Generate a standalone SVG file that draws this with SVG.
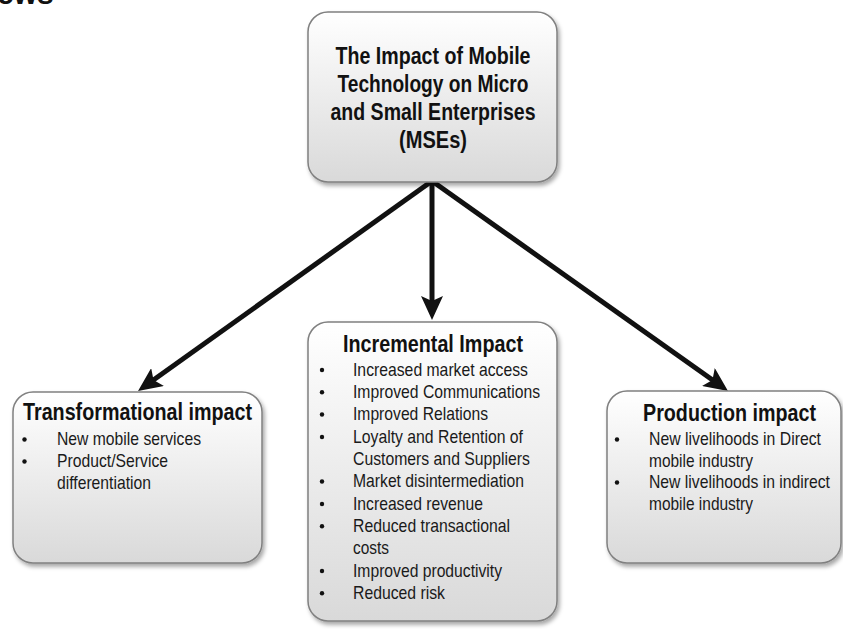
<svg xmlns="http://www.w3.org/2000/svg" width="843" height="629" viewBox="0 0 843 629">
<defs>
<linearGradient id="boxFill" x1="0" y1="0" x2="0" y2="1">
<stop offset="0" stop-color="#ffffff"/>
<stop offset="1" stop-color="#d9d9d9"/>
</linearGradient>
<filter id="shadow" x="-10%" y="-10%" width="125%" height="125%">
<feDropShadow dx="2" dy="3" stdDeviation="2" flood-color="#000" flood-opacity="0.35"/>
</filter>
<marker id="arrow" markerUnits="userSpaceOnUse" viewBox="0 0 24 22" refX="12" refY="11" markerWidth="24" markerHeight="22" orient="auto">
<path d="M0,0 L24,11 L0,22 L5,11 Z" fill="#111"/>
</marker>
</defs>
<style>
.box{fill:url(#boxFill);stroke:#808080;stroke-width:1.5;filter:url(#shadow)}
.head{font-family:"Liberation Sans",Arial,sans-serif;font-weight:bold;font-size:23px;fill:#111}
.body{font-family:"Liberation Sans",Arial,sans-serif;font-size:18.5px;fill:#1a1a1a}
.bul{fill:#111}
.conn{stroke:#111;stroke-width:5;fill:none;marker-end:url(#arrow)}
</style>
<rect width="843" height="629" fill="#ffffff"/>
<text x="-3" y="4" font-family="Liberation Sans, Arial, sans-serif" font-weight="bold" font-size="30" fill="#111">ews</text>

<g id="connectors">
<line class="conn" x1="432" y1="181" x2="147.8" y2="384"/>
<line class="conn" x1="432" y1="181" x2="432" y2="308"/>
<line class="conn" x1="432" y1="181" x2="718.2" y2="384"/>
</g>

<g id="top">
<rect class="box" x="308" y="12" width="249" height="170" rx="20"/>
<text class="head" x="433" y="63.5" text-anchor="middle" textLength="195" lengthAdjust="spacingAndGlyphs">The Impact of Mobile</text>
<text class="head" x="433" y="91.5" text-anchor="middle" textLength="191" lengthAdjust="spacingAndGlyphs">Technology on Micro</text>
<text class="head" x="433" y="119.5" text-anchor="middle" textLength="205" lengthAdjust="spacingAndGlyphs">and Small Enterprises</text>
<text class="head" x="433" y="147.5" text-anchor="middle" textLength="68" lengthAdjust="spacingAndGlyphs">(MSEs)</text>
</g>

<g id="transformational">
<rect class="box" x="13" y="392" width="249" height="171" rx="20"/>
<text class="head" x="23" y="420" textLength="229" lengthAdjust="spacingAndGlyphs">Transformational impact</text>
<circle class="bul" cx="24.5" cy="439.5" r="2.2"/>
<text class="body" x="57" y="445" textLength="144" lengthAdjust="spacingAndGlyphs">New mobile services</text>
<circle class="bul" cx="24.5" cy="461.5" r="2.2"/>
<text class="body" x="57" y="467" textLength="111" lengthAdjust="spacingAndGlyphs">Product/Service</text>
<text class="body" x="57" y="488.5" textLength="94" lengthAdjust="spacingAndGlyphs">differentiation</text>
</g>

<g id="incremental">
<rect class="box" x="308" y="322" width="249" height="299" rx="20"/>
<text class="head" x="433" y="352" text-anchor="middle" textLength="180" lengthAdjust="spacingAndGlyphs">Incremental Impact</text>
<circle class="bul" cx="322" cy="370" r="2.2"/>
<text class="body" x="353" y="375.5" textLength="175" lengthAdjust="spacingAndGlyphs">Increased market access</text>
<circle class="bul" cx="322" cy="392.3" r="2.2"/>
<text class="body" x="353" y="397.8" textLength="187" lengthAdjust="spacingAndGlyphs">Improved Communications</text>
<circle class="bul" cx="322" cy="414.5" r="2.2"/>
<text class="body" x="353" y="420" textLength="135" lengthAdjust="spacingAndGlyphs">Improved Relations</text>
<circle class="bul" cx="322" cy="437" r="2.2"/>
<text class="body" x="353" y="442.5" textLength="170" lengthAdjust="spacingAndGlyphs">Loyalty and Retention of</text>
<text class="body" x="353" y="464.8" textLength="177" lengthAdjust="spacingAndGlyphs">Customers and Suppliers</text>
<circle class="bul" cx="322" cy="481.5" r="2.2"/>
<text class="body" x="353" y="487" textLength="171" lengthAdjust="spacingAndGlyphs">Market disintermediation</text>
<circle class="bul" cx="322" cy="504" r="2.2"/>
<text class="body" x="353" y="509.5" textLength="130" lengthAdjust="spacingAndGlyphs">Increased revenue</text>
<circle class="bul" cx="322" cy="526.3" r="2.2"/>
<text class="body" x="353" y="531.8" textLength="157" lengthAdjust="spacingAndGlyphs">Reduced transactional</text>
<text class="body" x="353" y="554" textLength="36" lengthAdjust="spacingAndGlyphs">costs</text>
<circle class="bul" cx="322" cy="571" r="2.2"/>
<text class="body" x="353" y="576.5" textLength="149" lengthAdjust="spacingAndGlyphs">Improved productivity</text>
<circle class="bul" cx="322" cy="593.2" r="2.2"/>
<text class="body" x="353" y="598.7" textLength="92" lengthAdjust="spacingAndGlyphs">Reduced risk</text>
</g>

<g id="production">
<rect class="box" x="607" y="391" width="234" height="172" rx="20"/>
<text class="head" x="729.5" y="421" text-anchor="middle" textLength="173" lengthAdjust="spacingAndGlyphs">Production impact</text>
<circle class="bul" cx="617" cy="439.5" r="2.2"/>
<text class="body" x="649" y="445" textLength="172" lengthAdjust="spacingAndGlyphs">New livelihoods in Direct</text>
<text class="body" x="649" y="467" textLength="104" lengthAdjust="spacingAndGlyphs">mobile industry</text>
<circle class="bul" cx="617" cy="482.5" r="2.2"/>
<text class="body" x="649" y="488" textLength="181" lengthAdjust="spacingAndGlyphs">New livelihoods in indirect</text>
<text class="body" x="649" y="510" textLength="104" lengthAdjust="spacingAndGlyphs">mobile industry</text>
</g>
</svg>
